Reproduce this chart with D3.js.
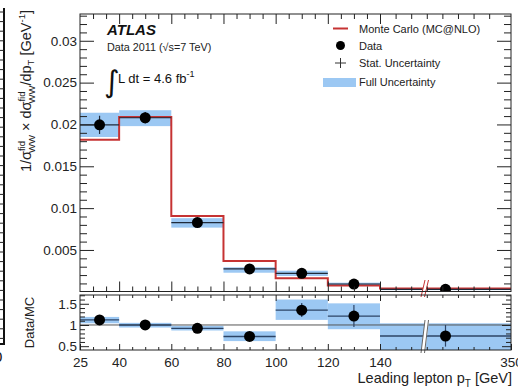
<!DOCTYPE html>
<html><head><meta charset="utf-8">
<script src="https://cdn.jsdelivr.net/npm/d3@7"></script>
<style>
html,body{margin:0;padding:0;background:#fff;overflow:hidden}
svg{display:block;font-family:"Liberation Sans",Arial,Helvetica,sans-serif}
</style></head><body>
<svg id="chart" width="518" height="387"></svg>
<script>
// Leading lepton pT bins [GeV]; the last bin is drawn compressed behind an axis break
const binEdges = [25, 40, 60, 80, 100, 120, 140, 350];

// Normalised differential cross section, data and MC@NLO prediction [GeV^-1]
const dataValues = [0.01995, 0.0208, 0.00827, 0.00273, 0.00221, 0.00093, 0.00030];
const statErrors = [0.0011, 0.0007, 0.0004, 0.0002, 0.0002, 0.00015, 0.0001];
const fullLow    = [0.0185, 0.0198, 0.00767, 0.00228, 0.00189, 0.00069, 0.00020];
const fullHigh   = [0.0214, 0.0217, 0.00880, 0.00293, 0.00252, 0.00109, 0.00040];
const mcValues   = [0.01816, 0.0209, 0.00907, 0.00368, 0.00161, 0.00075, 0.00040];

// Data/MC ratio with statistical and full uncertainties
const ratioValues   = [1.12, 1.00, 0.92, 0.73, 1.35, 1.21, 0.74];
const ratioStatLow  = [1.07, 0.96, 0.87, 0.65, 1.19, 0.95, 0.49];
const ratioStatHigh = [1.17, 1.04, 0.97, 0.81, 1.52, 1.47, 1.00];
const ratioFullLow  = [1.04, 0.94, 0.87, 0.62, 1.12, 0.90, 0.38];
const ratioFullHigh = [1.19, 1.05, 0.98, 0.85, 1.60, 1.51, 1.04];

// Axis ticks and labels
const xMajorTicks = [25, 40, 60, 80, 100, 120, 140, 350];
const xTickLabels = ["25", "40", "60", "80", "100", "120", "140", "350"];
const xMinorTicks = [30, 35, 45, 50, 55, 65, 70, 75, 85, 90, 95, 105, 110, 115, 125, 130, 135,
                     165, 190, 215, 240, 265, 290, 315];
const yMainTicks = [0.005, 0.01, 0.015, 0.02, 0.025, 0.03];
const yMainTickLabels = ["0.005", "0.01", "0.015", "0.02", "0.025", "0.03"];
const yMainMinor = [0.001,0.002,0.003,0.004,0.006,0.007,0.008,0.009,0.011,0.012,0.013,0.014,
                    0.016,0.017,0.018,0.019,0.021,0.022,0.023,0.024,0.026,0.027,0.028,0.029,
                    0.031,0.032,0.033];
const yRatioTicks = [0.5, 1, 1.5];
const yRatioTickLabels = ["0.5", "1", "1.5"];
const yRatioMinor = [0.6, 0.7, 0.8, 0.9, 1.1, 1.2, 1.3, 1.4, 1.6, 1.7];

const svg = d3.select("#chart");
const L = 80, R = 511, mainTop = 14, mainBot = 291.5, ratioTop = 295, ratioBot = 350;
const breakX = 424;

const RED = "#c63333", BAND = "#9cc8f3", DARK = "#1f2a3a";

const x = d3.scaleLinear().domain([25, 140, 350]).range([L, 380, R]);
const yMain = d3.scaleLinear().domain([0, 0.0332]).range([291.8, mainTop]);
const yRatio = d3.scaleLinear().domain([0.41, 1.707]).range([ratioBot, ratioTop]);

const bins = dataValues.map((v, i) => {
  const x0 = x(binEdges[i]), x1 = x(binEdges[i + 1]);
  return {i, x0, x1, xc: (x0 + x1) / 2};
});

const defs = svg.append("defs");
defs.append("clipPath").attr("id", "clipMain")
  .append("rect").attr("x", L).attr("y", mainTop).attr("width", R - L).attr("height", mainBot - mainTop);
defs.append("clipPath").attr("id", "clipRatio")
  .append("rect").attr("x", L).attr("y", ratioTop).attr("width", R - L).attr("height", ratioBot - ratioTop);

// ---------- main panel ----------
const gMain = svg.append("g").attr("clip-path", "url(#clipMain)");

gMain.selectAll("rect.band").data(bins).join("rect")
  .attr("x", d => d.x0).attr("width", d => d.x1 - d.x0)
  .attr("y", d => yMain(fullHigh[d.i]))
  .attr("height", d => yMain(fullLow[d.i]) - yMain(fullHigh[d.i]))
  .attr("fill", BAND);

const mcPoints = binEdges.map((e, i) => [e, mcValues[Math.min(i, mcValues.length - 1)]]);
gMain.append("path")
  .attr("d", d3.line().x(d => x(d[0])).y(d => yMain(d[1])).curve(d3.curveStepAfter)(mcPoints))
  .attr("fill", "none").attr("stroke", RED).attr("stroke-width", 2);

gMain.selectAll("line.h").data(bins).join("line")
  .attr("x1", d => d.x0).attr("x2", d => d.x1)
  .attr("y1", d => yMain(dataValues[d.i])).attr("y2", d => yMain(dataValues[d.i]))
  .attr("stroke", DARK).attr("stroke-width", 1.2);
gMain.selectAll("line.v").data(bins).join("line")
  .attr("x1", d => d.xc).attr("x2", d => d.xc)
  .attr("y1", d => yMain(dataValues[d.i] + statErrors[d.i]))
  .attr("y2", d => yMain(dataValues[d.i] - statErrors[d.i]))
  .attr("stroke", DARK).attr("stroke-width", 1.2);
gMain.selectAll("circle").data(bins).join("circle")
  .attr("cx", d => d.xc).attr("cy", d => yMain(dataValues[d.i])).attr("r", 5.5)
  .attr("fill", "#000");

// axis-break mark
function breakMark(g, yA, yB, color) {
  g.append("polygon")
    .attr("points", `${breakX - 3},${yB} ${breakX + 1},${yA} ${breakX + 5},${yA} ${breakX + 1},${yB}`)
    .attr("fill", "#fff");
  [0, 3.5].forEach(o => g.append("line")
    .attr("x1", breakX - 3 + o).attr("y1", yB).attr("x2", breakX + 1 + o).attr("y2", yA)
    .attr("stroke", color).attr("stroke-width", 1));
}
breakMark(svg.append("g"), 280, 297, RED);

// ---------- ratio panel ----------
const gRatio = svg.append("g").attr("clip-path", "url(#clipRatio)");
gRatio.selectAll("rect.band").data(bins).join("rect")
  .attr("x", d => d.x0).attr("width", d => d.x1 - d.x0)
  .attr("y", d => yRatio(ratioFullHigh[d.i]))
  .attr("height", d => yRatio(ratioFullLow[d.i]) - yRatio(ratioFullHigh[d.i]))
  .attr("fill", BAND);
gRatio.append("line").attr("x1", L).attr("x2", R).attr("y1", yRatio(1)).attr("y2", yRatio(1))
  .attr("stroke", "#555").attr("stroke-width", 1);
gRatio.selectAll("line.h").data(bins).join("line")
  .attr("x1", d => d.x0).attr("x2", d => d.x1)
  .attr("y1", d => yRatio(ratioValues[d.i])).attr("y2", d => yRatio(ratioValues[d.i]))
  .attr("stroke", "#2c4466").attr("stroke-width", 1.4);
gRatio.selectAll("line.v").data(bins).join("line")
  .attr("x1", d => d.xc).attr("x2", d => d.xc)
  .attr("y1", d => yRatio(ratioStatHigh[d.i])).attr("y2", d => yRatio(ratioStatLow[d.i]))
  .attr("stroke", "#2c4466").attr("stroke-width", 1.2);
gRatio.selectAll("circle").data(bins).join("circle")
  .attr("cx", d => d.xc).attr("cy", d => yRatio(ratioValues[d.i])).attr("r", 5.5)
  .attr("fill", "#000");
breakMark(svg.append("g"), 320, 353, "#666");

// ---------- frames and axes ----------
function frame(y0, y1) {
  svg.append("rect").attr("x", L).attr("y", y0).attr("width", R - L).attr("height", y1 - y0)
    .attr("fill", "none").attr("stroke", "#222").attr("stroke-width", 1);
}
frame(mainTop, mainBot);
frame(ratioTop, ratioBot);

function axisG(axis, tx, ty) {
  const g = svg.append("g").attr("transform", `translate(${tx},${ty})`).call(axis);
  g.select(".domain").remove();
  g.selectAll("line").attr("stroke", "#222").attr("stroke-width", 1);
  return g;
}
const noLab = () => "";

// main panel x ticks (bottom and top, no labels)
axisG(d3.axisBottom(x).tickValues(xMajorTicks.slice(1, 7)).tickSize(-10).tickFormat(noLab), 0, mainBot);
axisG(d3.axisBottom(x).tickValues(xMinorTicks).tickSize(-5).tickFormat(noLab), 0, mainBot);
axisG(d3.axisTop(x).tickValues(xMajorTicks.slice(1, 7)).tickSize(-10).tickFormat(noLab), 0, mainTop);
axisG(d3.axisTop(x).tickValues(xMinorTicks).tickSize(-5).tickFormat(noLab), 0, mainTop);

// main panel y ticks
const yl = axisG(d3.axisLeft(yMain).tickValues(yMainTicks).tickSize(-14).tickPadding(3)
  .tickFormat((d, i) => yMainTickLabels[i]), L, 0);
axisG(d3.axisLeft(yMain).tickValues(yMainMinor).tickSize(-7).tickFormat(noLab), L, 0);
axisG(d3.axisRight(yMain).tickValues(yMainTicks).tickSize(-14).tickFormat(noLab), R, 0);
axisG(d3.axisRight(yMain).tickValues(yMainMinor).tickSize(-7).tickFormat(noLab), R, 0);

// ratio panel axes
const xl = axisG(d3.axisBottom(x).tickValues(xMajorTicks).tickSize(-6).tickPadding(7)
  .tickFormat((d, i) => xTickLabels[i]), 0, ratioBot);
axisG(d3.axisBottom(x).tickValues(xMinorTicks).tickSize(-3).tickFormat(noLab), 0, ratioBot);
axisG(d3.axisTop(x).tickValues(xMajorTicks.slice(1, 7)).tickSize(-6).tickFormat(noLab), 0, ratioTop);
axisG(d3.axisTop(x).tickValues(xMinorTicks).tickSize(-3).tickFormat(noLab), 0, ratioTop);
const yrl = axisG(d3.axisLeft(yRatio).tickValues(yRatioTicks).tickSize(-9).tickPadding(3)
  .tickFormat((d, i) => yRatioTickLabels[i]), L, 0);
axisG(d3.axisLeft(yRatio).tickValues(yRatioMinor).tickSize(-5).tickFormat(noLab), L, 0);
axisG(d3.axisRight(yRatio).tickValues(yRatioTicks).tickSize(-9).tickFormat(noLab), R, 0);
axisG(d3.axisRight(yRatio).tickValues(yRatioMinor).tickSize(-5).tickFormat(noLab), R, 0);

[yl, yrl, xl].forEach(g => g.selectAll("text")
  .attr("fill", "#222").style("font-size", "13.5px").style("font-family", "Liberation Sans, Arial, sans-serif"));

// ---------- axis titles ----------
const xt = svg.append("text").attr("x", 512).attr("y", 383).attr("text-anchor", "end")
  .attr("fill", "#222").style("font-size", "14.5px");
xt.append("tspan").text("Leading lepton p");
xt.append("tspan").attr("dy", 4).style("font-size", "10px").text("T");
xt.append("tspan").attr("dy", -4).text(" [GeV]");

const yt = svg.append("text").attr("transform", "translate(31,10) rotate(-90)")
  .attr("text-anchor", "end").attr("fill", "#222").style("font-size", "14.5px");
yt.append("tspan").text("1/σ");
yt.append("tspan").attr("dy", -6).style("font-size", "9.5px").text("fid");
yt.append("tspan").attr("dx", -12).attr("dy", 10).style("font-size", "9.5px").text("WW");
yt.append("tspan").attr("dy", -4).text(" × dσ");
yt.append("tspan").attr("dy", -6).style("font-size", "9.5px").text("fid");
yt.append("tspan").attr("dx", -12).attr("dy", 10).style("font-size", "9.5px").text("WW");
yt.append("tspan").attr("dy", -4).text("/dp");
yt.append("tspan").attr("dy", 3).style("font-size", "9.5px").text("T");
yt.append("tspan").attr("dy", -3).text(" [GeV");
yt.append("tspan").attr("dy", -6).style("font-size", "9.5px").text("-1");
yt.append("tspan").attr("dy", 6).text("]");

svg.append("text").attr("transform", `translate(34,${(ratioTop + ratioBot) / 2}) rotate(-90)`)
  .attr("text-anchor", "middle").attr("fill", "#222").style("font-size", "13px").text("Data/MC");

// ---------- labels ----------
svg.append("text").attr("x", 107).attr("y", 35).attr("fill", "#111")
  .style("font-size", "15px").style("font-weight", "bold").style("font-style", "italic").text("ATLAS");
svg.append("text").attr("x", 107).attr("y", 51).attr("fill", "#222")
  .style("font-size", "10.8px").text("Data 2011 (√s=7 TeV)");
svg.append("text").attr("x", 104).attr("y", 92).attr("fill", "#111")
  .style("font-size", "30px").style("font-family", "DejaVu Sans, sans-serif").text("∫");
const lumi = svg.append("text").attr("x", 118).attr("y", 83).attr("fill", "#111").style("font-size", "13px");
lumi.append("tspan").text("L dt = 4.6 fb");
lumi.append("tspan").attr("dy", -6).style("font-size", "9px").text("-1");

// ---------- legend ----------
const legend = svg.append("g").style("font-size", "11px").attr("fill", "#222");
legend.append("line").attr("x1", 333).attr("x2", 348).attr("y1", 28.5).attr("y2", 28.5)
  .attr("stroke", RED).attr("stroke-width", 2);
legend.append("text").attr("x", 359).attr("y", 32.5).text("Monte Carlo (MC@NLO)");
legend.append("circle").attr("cx", 340.5).attr("cy", 45.5).attr("r", 4.5).attr("fill", "#000");
legend.append("text").attr("x", 359).attr("y", 50).text("Data");
legend.append("line").attr("x1", 335).attr("x2", 346).attr("y1", 63).attr("y2", 63).attr("stroke", "#333");
legend.append("line").attr("x1", 340.5).attr("x2", 340.5).attr("y1", 58).attr("y2", 68).attr("stroke", "#333");
legend.append("text").attr("x", 359).attr("y", 67).text("Stat. Uncertainty");
legend.append("rect").attr("x", 323).attr("y", 78).attr("width", 33).attr("height", 9).attr("fill", BAND);
legend.append("text").attr("x", 359).attr("y", 86).text("Full Uncertainty");

// ---------- neighbouring panel edge on the left ----------
const edge = svg.append("g");
edge.append("line").attr("x1", 4).attr("x2", 4).attr("y1", 8).attr("y2", 344)
  .attr("stroke", "#111").attr("stroke-width", 2);
edge.selectAll("line.t").data(d3.range(12, 344, 9.6)).join("line")
  .attr("x1", 0).attr("x2", 4).attr("y1", d => d).attr("y2", d => d)
  .attr("stroke", "#222").attr("stroke-width", 1);
edge.append("line").attr("x1", 0).attr("x2", 5).attr("y1", 344).attr("y2", 344)
  .attr("stroke", "#111").attr("stroke-width", 2);
edge.append("text").attr("x", -6).attr("y", 362).style("font-size", "15px").attr("fill", "#111").text("0");
</script>
</body></html>
